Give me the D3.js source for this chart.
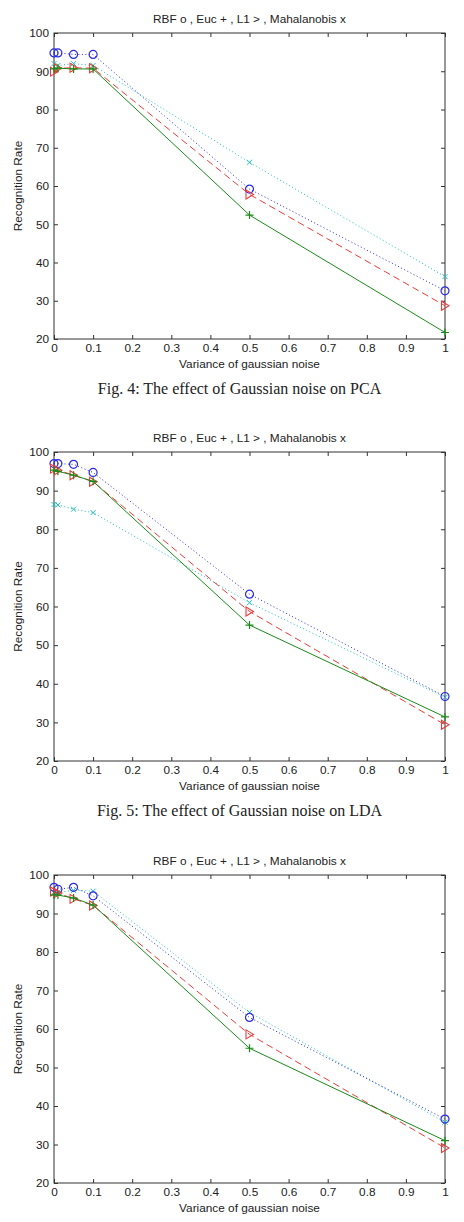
<!DOCTYPE html>
<html>
<head>
<meta charset="utf-8">
<script src="https://cdn.jsdelivr.net/npm/d3@7"></script>
<style>
  body { margin: 0; background: #fff; }
  svg text { font-family: 'Liberation Sans', Arial, sans-serif; fill: #222; }
</style>
</head>
<body>
<div id="chart"></div>
<script>
// noise variance levels (x axis)
let variance = [0, 0.01, 0.05, 0.1, 0.5, 1]

// Fig. 4 – PCA
let pcaRBF = [94.8, 94.8, 94.4, 94.4, 59.2, 32.6]
let pcaEuc = [90.6, 90.8, 90.6, 90.6, 52.4, 21.7]
let pcaL1 = [89.9, 90.8, 90.9, 90.8, 57.8, 28.7]
let pcaMaha = [92.0, 91.5, 92.0, 91.5, 66.2, 36.3]

// Fig. 5 – LDA
let ldaRBF = [97.0, 97.0, 96.8, 94.7, 63.2, 36.7]
let ldaEuc = [95.3, 95.0, 94.0, 92.4, 55.2, 31.4]
let ldaL1 = [95.7, 95.3, 94.0, 92.3, 58.7, 29.4]
let ldaMaha = [86.4, 86.3, 85.2, 84.3, 61.0, 36.5]

// third figure
let thirdRBF = [96.8, 96.3, 96.8, 94.6, 63.0, 36.6]
let thirdEuc = [94.8, 94.8, 94.0, 92.2, 55.0, 31.0]
let thirdL1 = [95.7, 95.3, 93.8, 92.1, 58.6, 29.1]
let thirdMaha = [95.5, 95.5, 96.0, 95.8, 64.3, 35.8]

let xTicks = [0, 0.1, 0.2, 0.3, 0.4, 0.5, 0.6, 0.7, 0.8, 0.9, 1]
let yTicks = [20, 30, 40, 50, 60, 70, 80, 90, 100]

let chartTitle = 'RBF o , Euc + , L1 > , Mahalanobis x'
let xLabel = 'Variance of gaussian noise'
let yLabel = 'Recognition Rate'

let panels = [
  { top: 33, height: 306, caption: 'Fig. 4: The effect of Gaussian noise on PCA', series: [pcaMaha, pcaRBF, pcaL1, pcaEuc] },
  { top: 452, height: 309, caption: 'Fig. 5: The effect of Gaussian noise on LDA', series: [ldaMaha, ldaRBF, ldaL1, ldaEuc] },
  { top: 875, height: 308, caption: null, series: [thirdMaha, thirdRBF, thirdL1, thirdEuc] }
]

// style per series, same order as panel.series
let styles = [
  { color: '#1fbfbf', dash: '1,2.5', marker: 'x' },
  { color: '#2a2ae6', dash: '1,2.5', marker: 'o' },
  { color: '#f03a3a', dash: '7,4', marker: '>' },
  { color: '#1a8a1a', dash: null, marker: '+' }
]

let width = 464
let height = 1222
let left = 54
let right = 445

let svg = d3
  .select('#chart')
  .append('svg')
  .attr('width', width)
  .attr('height', height)

let xScale = d3.scaleLinear().domain([0, 1]).range([left, right])

function drawMarker(g, type, color) {
  if (type === 'o') {
    g.append('circle').attr('r', 4).attr('fill', 'none').attr('stroke', color).attr('stroke-width', 1.2)
  } else if (type === '+') {
    g.append('path').attr('d', 'M-4,0H4M0,-4V4').attr('stroke', color).attr('stroke-width', 1.2)
  } else if (type === 'x') {
    g.append('path').attr('d', 'M-2.5,-2.5L2.5,2.5M-2.5,2.5L2.5,-2.5').attr('stroke', color).attr('stroke-width', 1)
  } else if (type === '>') {
    g.append('path').attr('d', 'M-3.5,-4.5L4,0L-3.5,4.5Z').attr('fill', 'none').attr('stroke', color).attr('stroke-width', 1.1)
  }
}

panels.forEach(p => {
  let yScale = d3.scaleLinear().domain([20, 100]).range([p.top + p.height, p.top])
  let g = svg.append('g')

  // frame
  g.append('rect')
    .attr('x', left)
    .attr('y', p.top)
    .attr('width', right - left)
    .attr('height', p.height)
    .attr('fill', 'none')
    .attr('stroke', '#333')
    .attr('stroke-width', 1)

  let axes = [
    d3.axisBottom(xScale).tickValues(xTicks).tickSizeInner(-4).tickSizeOuter(0).tickPadding(5).tickFormat(d3.format('')),
    d3.axisTop(xScale).tickValues(xTicks).tickSizeInner(-4).tickSizeOuter(0).tickFormat(''),
    d3.axisLeft(yScale).tickValues(yTicks).tickSizeInner(-4).tickSizeOuter(0).tickPadding(5),
    d3.axisRight(yScale).tickValues(yTicks).tickSizeInner(-4).tickSizeOuter(0).tickFormat('')
  ]
  let pos = [
    `translate(0,${p.top + p.height})`,
    `translate(0,${p.top})`,
    `translate(${left},0)`,
    `translate(${right},0)`
  ]
  axes.forEach((ax, i) => {
    let a = g.append('g').attr('transform', pos[i]).call(ax)
    a.select('.domain').remove()
    a.selectAll('line').attr('stroke', '#333')
    a.selectAll('text').attr('font-size', 11.8).attr('fill', '#222').style('font-family', "'Liberation Sans', Arial, sans-serif")
  })

  // title
  g.append('text')
    .attr('x', (left + right) / 2)
    .attr('y', p.top - 10)
    .attr('text-anchor', 'middle')
    .attr('font-size', 11.8)
    .text(chartTitle)

  // x label
  g.append('text')
    .attr('x', (left + right) / 2)
    .attr('y', p.top + p.height + 29)
    .attr('text-anchor', 'middle')
    .attr('font-size', 11.8)
    .text(xLabel)

  // y label
  g.append('text')
    .attr('transform', `translate(22,${p.top + p.height / 2}) rotate(-90)`)
    .attr('text-anchor', 'middle')
    .attr('font-size', 11.8)
    .text(yLabel)

  let line = d3.line()
    .x((d, i) => xScale(variance[i]))
    .y(d => yScale(d))

  p.series.forEach((values, k) => {
    let st = styles[k]
    g.append('path')
      .datum(values)
      .attr('d', line)
      .attr('fill', 'none')
      .attr('stroke', st.color)
      .attr('stroke-width', 1)
      .attr('stroke-dasharray', st.dash)

    g.append('g')
      .selectAll('g')
      .data(values)
      .enter()
      .append('g')
      .attr('transform', (d, i) => `translate(${xScale(variance[i])},${yScale(d)})`)
      .each(function() {
        drawMarker(d3.select(this), st.marker, st.color)
      })
  })

  if (p.caption) {
    g.append('text')
      .attr('x', (left + right) / 2 - 10)
      .attr('y', p.top + p.height + 55)
      .attr('text-anchor', 'middle')
      .attr('font-size', 16)
      .style('font-family', "'Liberation Serif', 'Times New Roman', serif")
      .text(p.caption)
  }
})
</script>
</body>
</html>
